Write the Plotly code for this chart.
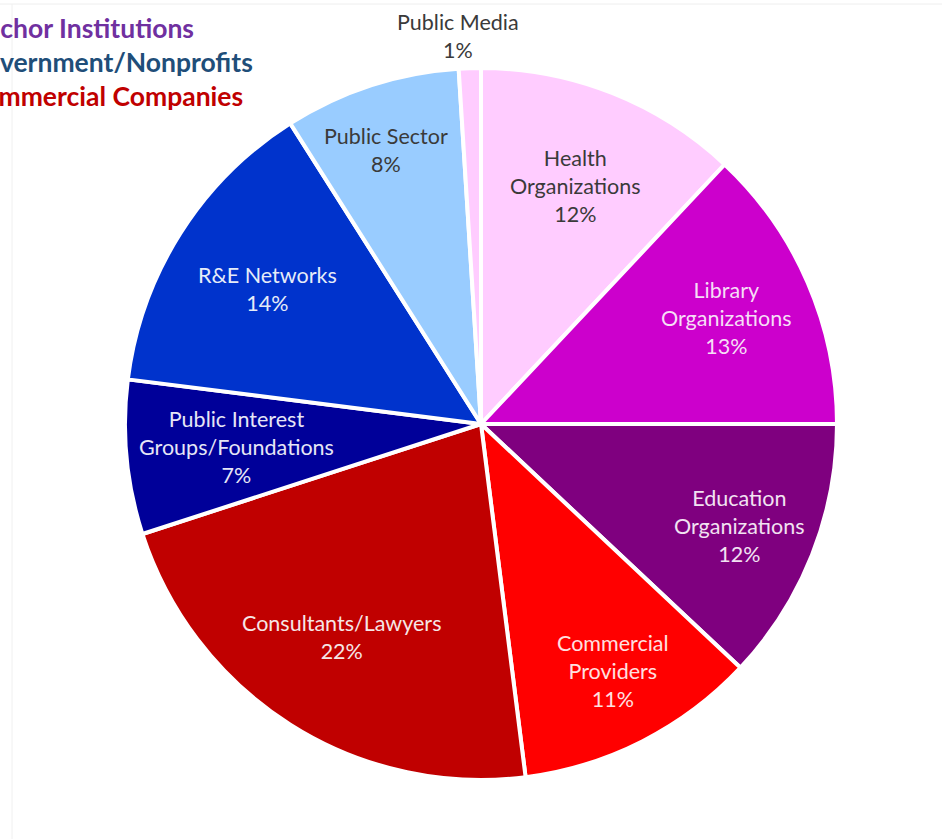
import math
import plotly.graph_objects as go

# ---- data ----
categories = [
    "Health<br>Organizations",
    "Library<br>Organizations",
    "Education<br>Organizations",
    "Commercial<br>Providers",
    "Consultants/Lawyers",
    "Public Interest<br>Groups/Foundations",
    "R&E Networks",
    "Public Sector",
    "Public Media",
]
shares = [12, 13, 12, 11, 22, 7, 14, 8, 1]

group_labels = ["Anchor Institutions", "Government/Nonprofits", "Commercial Companies"]

# ---- styles ----
slice_colors = ["#FFCCFF", "#CC00CC", "#7F007F", "#FF0000", "#C00000",
                "#000099", "#0033CC", "#99CCFF", "#FFCCFF"]
text_colors = ["#3A3A3A", "#F6DDF6", "#F2E2F2", "#FFE0E0", "#F6E6E6",
               "#E6E6F6", "#E6ECF8", "#3A3A3A", "#3A3A3A"]
label_rfrac = [0.72, 0.75, 0.78, 0.78, 0.71, 0.69, 0.71, 0.81, 1.09]
label_xshift = [0, 0, 0, 6, -4, 0, 0, -6, -11]
group_colors = ["#7030A0", "#1F4E79", "#C00000"]

W, H = 942, 839
CX, CY, R = 481, 424, 356  # pixel centre / radius of pie

fig = go.Figure()
fig.add_trace(go.Pie(
    labels=categories,
    values=shares,
    sort=False,
    direction="clockwise",
    rotation=0,
    textinfo="none",
    hoverinfo="label+percent",
    marker=dict(colors=slice_colors, line=dict(color="white", width=4)),
    domain=dict(x=[(CX - R) / W, (CX + R) / W],
                y=[(H - CY - R) / H, (H - CY + R) / H]),
    showlegend=False,
))

# slice labels placed at each slice's mid angle (computed from the data)
total = sum(shares)
cum = 0.0
annotations = []
for name, v, tc, rf, xs in zip(categories, shares, text_colors, label_rfrac, label_xshift):
    mid = (cum + v / 2) / total * 2 * math.pi
    cum += v
    px = CX + rf * R * math.sin(mid)
    py = CY - rf * R * math.cos(mid)
    pct = round(v / total * 100)
    annotations.append(dict(
        x=px / W, y=1 - py / H, xref="paper", yref="paper",
        text=f"{name}<br>{pct}%", showarrow=False, xshift=xs,
        xanchor="center", yanchor="middle", align="center",
        font=dict(family="Lato, Carlito, Calibri, sans-serif", size=21.5, color=tc),
    ))

# group legend text (cut off at left edge as in the original)
for i, (g, c) in enumerate(zip(group_labels, group_colors)):
    annotations.append(dict(
        x=-36 / W, y=1 - (28 + 34 * i) / H, xref="paper", yref="paper",
        text=f"<b>{g}</b>", showarrow=False,
        xanchor="left", yanchor="middle", align="left",
        font=dict(family="Lato, Carlito, Calibri, sans-serif", size=26.5, color=c),
    ))

fig.update_layout(
    width=W, height=H,
    margin=dict(l=0, r=0, t=0, b=0),
    paper_bgcolor="white",
    plot_bgcolor="white",
    annotations=annotations,
    shapes=[
        dict(type="line", xref="paper", yref="paper", x0=0, x1=1,
             y0=1 - 4 / H, y1=1 - 4 / H, line=dict(color="#EEEEEE", width=1)),
        dict(type="line", xref="paper", yref="paper", x0=12 / W, x1=12 / W,
             y0=0, y1=1 - 4 / H, line=dict(color="#F0F0F0", width=1)),
    ],
)

fig.write_html("out.html")
